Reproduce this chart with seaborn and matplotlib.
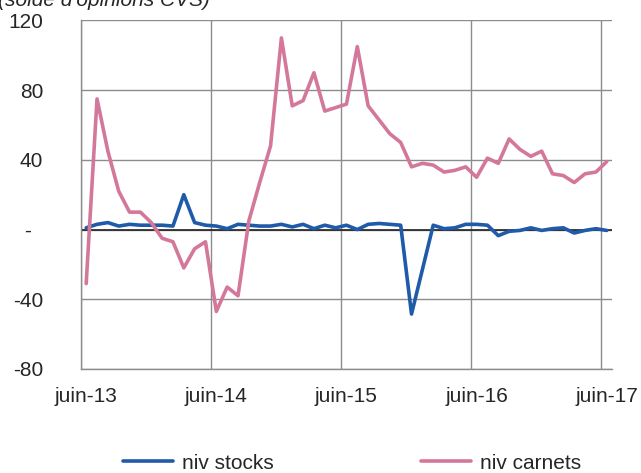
import numpy as np
import pandas as pd
import matplotlib
matplotlib.use('Agg')
import matplotlib.pyplot as plt
import seaborn as sns

# ==== DATA (monthly, juin-13 .. juin-17) ====
TICK_LABELS = ['juin-13', 'juin-14', 'juin-15', 'juin-16', 'juin-17']
niv_stocks = [1, 3, 4, 2, 3, 2.5, 2.5, 2.5, 2, 20, 4, 2.5, 2, 0.5, 3, 2.5,
              2, 2, 3, 1.5, 3, 0.5, 2.5, 1, 2.5, 0, 3, 3.5, 3, 2.5, -48.5,
              -23, 2.5, 0.5, 1, 3, 3, 2.5, -3.5, -1, -0.5, 1, -0.5, 0.5, 1,
              -2, -0.5, 0.5, -0.5]
niv_carnets = [-31, 75, 45, 22, 10, 10, 4, -5, -7, -22, -11, -7, -47, -33,
               -38, 5, 27, 48, 110, 71, 74, 90, 68, 70, 72, 105, 71, 63, 55,
               50, 36, 38, 37, 33, 34, 36, 30, 41, 38, 52, 46, 42, 45, 32, 31,
               27, 32, 33, 39]
SERIES = ['niv stocks', 'niv carnets']
COLORS = ['#1F5BA8', '#D4789B']

month = np.arange(len(niv_stocks))
df = pd.DataFrame({
    'month': np.concatenate([month, month]),
    'value': niv_stocks + niv_carnets,
    'serie': [SERIES[0]] * len(niv_stocks) + [SERIES[1]] * len(niv_carnets),
})

sns.set_style('white')
plt.rcParams['font.family'] = ['Liberation Sans', 'DejaVu Sans']

fig = plt.figure(figsize=(6.41, 4.73), dpi=100)
ax = fig.add_axes([0.126, 0.22, 0.829, 0.7367])

sns.lineplot(data=df, x='month', y='value', hue='serie', palette=COLORS,
             linewidth=2.6, ax=ax, legend=True)

ax.set_xlim(-0.5, len(month) - 0.5)
ax.set_ylim(-80, 120)

# gridlines at year boundaries, labels centered on the june month
ax.set_xticks(np.arange(0, 49, 12))
ax.set_xticklabels(TICK_LABELS, fontsize=15)
ax.set_xticks(np.arange(-0.5, 48, 12), minor=True)
ax.grid(True, which='minor', axis='x', color='#8c8c8c', linewidth=1)
ax.grid(False, which='major', axis='x')

yticks = [-80, -40, 0, 40, 80, 120]
ax.set_yticks(yticks)
ax.set_yticklabels(['-80', '-40', '-  ', '40', '80', '120'], fontsize=15)
ax.grid(True, which='major', axis='y', color='#8c8c8c', linewidth=1)
ax.axhline(0, color='#222222', linewidth=1.2, zorder=1.5)

ax.tick_params(axis='both', which='both', length=0)
ax.tick_params(axis='y', pad=27)
ax.tick_params(axis='x', pad=13)
ax.set_xlabel('')
ax.set_ylabel('')
for side in ['top', 'right']:
    ax.spines[side].set_visible(False)
for side in ['left', 'bottom']:
    ax.spines[side].set_color('#8c8c8c')
    ax.spines[side].set_linewidth(1)

handles, labels = ax.get_legend_handles_labels()
ax.get_legend().remove()
fig.legend(handles, labels, loc='center', bbox_to_anchor=(352 / 641, 1 - 463 / 473),
           ncol=2, frameon=False, fontsize=15, handlelength=2.4,
           handletextpad=0.4, columnspacing=7.1, borderpad=0)

fig.text(210 / 641, 1 - 6 / 473, "(solde d'opinions CVS)", ha='right',
         va='baseline', fontsize=15, style='italic')

fig.savefig('out.png', dpi=100)
